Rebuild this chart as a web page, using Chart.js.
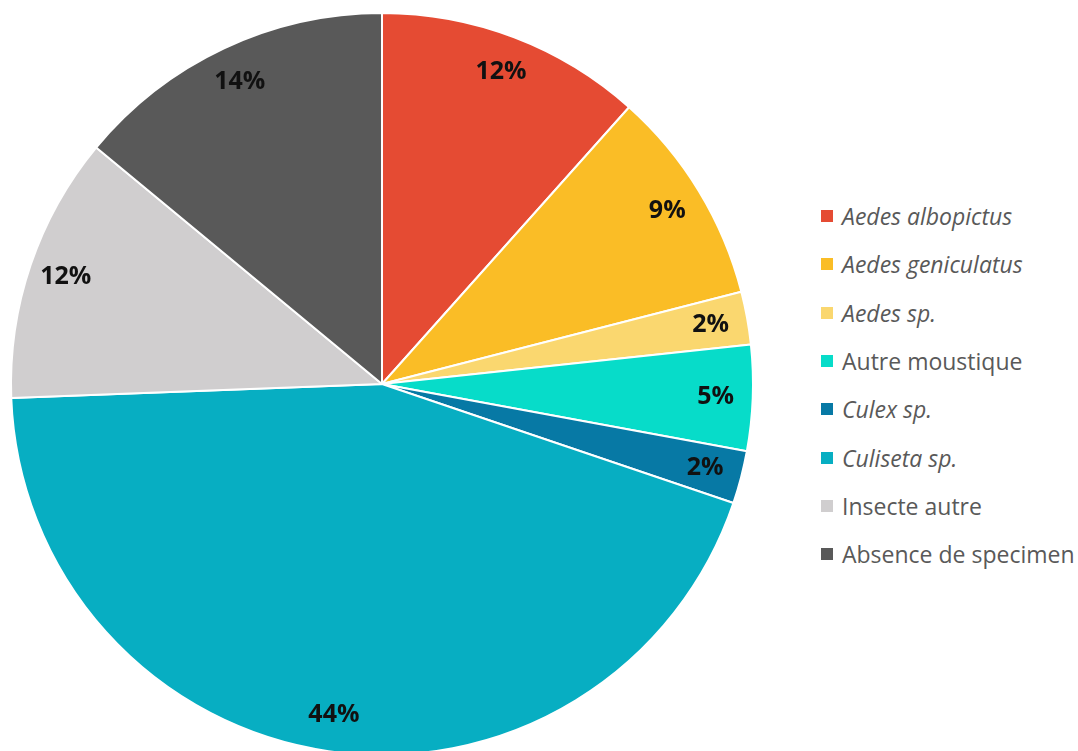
<!DOCTYPE html>
<html>
<head>
<meta charset="utf-8">
<script src="https://cdn.jsdelivr.net/npm/chart.js@4"></script>
<style>
    html, body { margin: 0; padding: 0; background: #ffffff; overflow: hidden; }
    #wrap { position: relative; width: 1078px; height: 751px; }
    #chartBox { position: absolute; left: 0; top: 0; width: 764px; height: 760px; }
    #legend { position: absolute; left: 821px; top: 192px; font-family: "Open Sans", sans-serif; font-size: 23px; color: #595959; }
    .item { display: flex; align-items: center; height: 48.3px; white-space: nowrap; }
    .box { width: 12px; height: 12px; margin-right: 9px; }
</style>
</head>
<body>
<div id="wrap">
    <div id="chartBox"><canvas id="pieChart"></canvas></div>
    <div id="legend"></div>
</div>
<script>
// categories, values (percent) and colours
const categories = [
    "Aedes albopictus",
    "Aedes geniculatus",
    "Aedes sp.",
    "Autre moustique",
    "Culex sp.",
    "Culiseta sp.",
    "Insecte autre",
    "Absence de specimen",
];
const italicNames = [true, true, true, false, true, true, false, false];
const shares = [11.6, 9.4, 2.3, 4.6, 2.3, 44.2, 11.6, 14.0];
const colors = [
    "#E54B33",
    "#FABD26",
    "#FAD76F",
    "#07DCC9",
    "#0779A5",
    "#07AEC2",
    "#D0CECF",
    "#595959",
];

// draw "12%" style labels inside each slice
const sliceLabels = {
    id: "sliceLabels",
    afterDatasetsDraw(chart) {
        const ctx = chart.ctx;
        const meta = chart.getDatasetMeta(0);
        ctx.save();
        ctx.font = "bold 25px 'Open Sans', sans-serif";
        ctx.fillStyle = "#111111";
        ctx.textAlign = "center";
        ctx.textBaseline = "middle";
        meta.data.forEach((arc, i) => {
            const p = arc.getProps(["x", "y", "startAngle", "endAngle", "outerRadius"], true);
            const mid = (p.startAngle + p.endAngle) / 2;
            const r = p.outerRadius * 0.9;
            const txt = Math.round(shares[i]) + "%";
            ctx.fillText(txt, p.x + Math.cos(mid) * r, p.y + Math.sin(mid) * r);
        });
        ctx.restore();
    },
};

const pieElement = document.getElementById("pieChart");

new Chart(pieElement.getContext("2d"), {
    type: "pie",
    data: {
        labels: categories,
        datasets: [
            {
                data: shares,
                backgroundColor: colors,
                borderColor: "#ffffff",
                borderWidth: 2,
            },
        ],
    },
    options: {
        responsive: true,
        maintainAspectRatio: false,
        animation: false,
        layout: { padding: { top: 12, bottom: 4 } },
        plugins: {
            legend: { display: false },
            tooltip: { enabled: false },
        },
    },
    plugins: [sliceLabels],
});

const legendContainer = document.getElementById("legend");
categories.forEach((label, index) => {
    legendContainer.innerHTML += `
<div class="item">
    <span class="box" style="background-color: ${colors[index]}"></span>
    <span style="font-style: ${italicNames[index] ? "italic" : "normal"}">${label}</span>
</div>
`;
});
</script>
</body>
</html>
